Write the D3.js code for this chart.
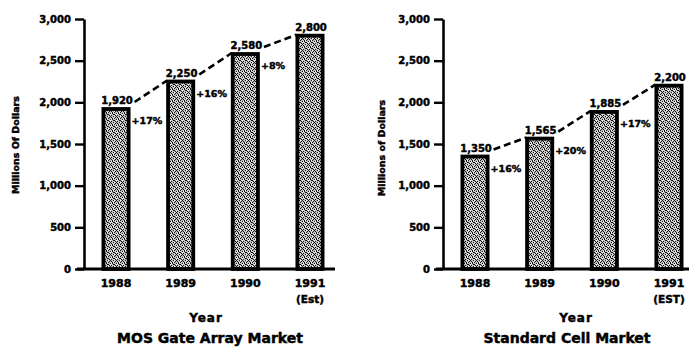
<!DOCTYPE html>
<html>
<head>
<meta charset="utf-8">
<script src="https://cdn.jsdelivr.net/npm/d3@7/dist/d3.min.js"></script>
<style>
  html, body { margin: 0; padding: 0; background: #fff; }
  svg { display: block; }
  text { font-family: "DejaVu Sans", "Liberation Sans", Arial, sans-serif; font-weight: bold; fill: #000; stroke: #000; stroke-width: 0.45px; }
</style>
</head>
<body>
<svg id="chart" width="689" height="349"></svg>
<script>
// Market size, millions of dollars
const years = ["1988", "1989", "1990", "1991"];
const gateArrayValues = [1920, 2250, 2580, 2800];
const gateArrayGrowth = ["+17%", "+16%", "+8%"];
const gateArrayEstLabel = "(Est)";
const stdCellValues = [1350, 1565, 1885, 2200];
const stdCellGrowth = ["+16%", "+20%", "+17%"];
const stdCellEstLabel = "(EST)";
const yTicks = [0, 500, 1000, 1500, 2000, 2500, 3000];

const svg = d3.select("#chart");

// Stippled fill for the bars
const defs = svg.append("defs");
const pat = defs.append("pattern")
  .attr("id", "stipple")
  .attr("patternUnits", "userSpaceOnUse")
  .attr("width", 6).attr("height", 6);
pat.append("rect").attr("width", 6).attr("height", 6).attr("fill", "#c4c4c4");
[[0,0],[3,1],[1,3],[4,4],[2,5],[5,2],[0,4],[3,3],[5,0],[1,1],[4,5],[2,2]].forEach(([x, y]) => {
  pat.append("rect").attr("x", x).attr("y", y).attr("width", 1).attr("height", 1).attr("fill", "#111");
});
[[2,0],[5,4],[0,2],[3,5]].forEach(([x, y]) => {
  pat.append("rect").attr("x", x).attr("y", y).attr("width", 1).attr("height", 1).attr("fill", "#fff");
});

function drawPanel(cfg) {
  const g = svg.append("g");
  const y = d3.scaleLinear().domain([0, 3000]).range([269, 19]);
  const x = d3.scaleBand().domain(years)
    .range([cfg.axisX, cfg.axisX + 258])
    .paddingInner(0.61).paddingOuter(0.3);
  const bw = x.bandwidth();

  // Y axis
  const yAxis = g.append("g")
    .attr("transform", `translate(${cfg.axisX},0)`)
    .call(d3.axisLeft(y).tickValues(yTicks).tickSize(9).tickSizeOuter(0)
      .tickPadding(4).tickFormat(d3.format(",")));
  yAxis.select(".domain").attr("stroke", "#000").attr("stroke-width", 2.6);
  yAxis.selectAll(".tick line").attr("stroke", "#000").attr("stroke-width", 2.4);
  yAxis.selectAll(".tick text")
    .style("font-family", "'DejaVu Sans', sans-serif")
    .style("font-weight", "bold").style("font-size", "10px")
    .attr("fill", "#000").attr("stroke", "#000").attr("stroke-width", 0.45);

  // Baseline
  g.append("line")
    .attr("x1", cfg.axisX - 7).attr("x2", cfg.baseEnd)
    .attr("y1", y(0)).attr("y2", y(0))
    .attr("stroke", "#000").attr("stroke-width", 3);

  // Axis title
  g.append("text")
    .attr("transform", `translate(${cfg.titleX},${cfg.titleY}) rotate(-90)`)
    .attr("text-anchor", "middle")
    .style("font-size", "9.5px")
    .text(cfg.yTitle);

  // Bars
  g.selectAll("rect.bar").data(cfg.values).join("rect")
    .attr("class", "bar")
    .attr("x", (d, i) => x(years[i]))
    .attr("y", d => y(d))
    .attr("width", bw)
    .attr("height", d => y(0) - y(d))
    .attr("fill", "url(#stipple)")
    .attr("stroke", "#000")
    .attr("stroke-width", 3.8);

  // Value labels
  g.selectAll("text.val").data(cfg.values).join("text")
    .attr("class", "val")
    .attr("x", (d, i) => x(years[i]) + bw / 2 + 1)
    .attr("y", d => y(d) - 5)
    .attr("text-anchor", "middle")
    .style("font-size", "10px")
    .text(d => d3.format(",")(d));

  // Dashed trend segments between bar tops
  const segs = d3.pairs(cfg.values.map((v, i) => ({ v, i })));
  g.selectAll("line.trend").data(segs).join("line")
    .attr("class", "trend")
    .attr("x1", ([a]) => x(years[a.i]) + bw + 6)
    .attr("y1", ([a]) => y(a.v) - 7)
    .attr("x2", ([, b]) => x(years[b.i]) - 1)
    .attr("y2", ([, b]) => y(b.v) - 1)
    .attr("stroke", "#000").attr("stroke-width", 2.6)
    .attr("stroke-dasharray", "7,4");

  // Growth labels
  g.selectAll("text.growth").data(cfg.growth).join("text")
    .attr("class", "growth")
    .attr("x", (d, i) => x(years[i]) + bw + 3)
    .attr("y", (d, i) => y(cfg.values[i]) + 15)
    .style("font-size", "9.5px")
    .text(d => d);

  // Year labels
  g.selectAll("text.year").data(years).join("text")
    .attr("class", "year")
    .attr("x", d => x(d) + bw / 2)
    .attr("y", 287)
    .attr("text-anchor", "middle")
    .style("font-size", "11px")
    .text(d => d);
  g.append("text")
    .attr("x", x(years[3]) + bw / 2)
    .attr("y", 303)
    .attr("text-anchor", "middle")
    .style("font-size", "10.5px")
    .text(cfg.estLabel);

  // X axis title and panel title
  g.append("text")
    .attr("x", cfg.yearX).attr("y", 322)
    .attr("text-anchor", "middle")
    .style("font-size", "12px")
    .style("letter-spacing", "1px")
    .text("Year");
  g.append("text")
    .attr("x", cfg.captionX).attr("y", 343)
    .attr("text-anchor", "middle")
    .style("font-size", "14px")
    .text(cfg.caption);
}

drawPanel({
  axisX: 84, baseEnd: 335, titleX: 19, titleY: 145,
  yTitle: "Millions Of Dollars",
  values: gateArrayValues, growth: gateArrayGrowth, estLabel: gateArrayEstLabel,
  yearX: 206, captionX: 210, caption: "MOS Gate Array Market"
});
drawPanel({
  axisX: 443, baseEnd: 689, titleX: 385, titleY: 148,
  yTitle: "Millions of Dollars",
  values: stdCellValues, growth: stdCellGrowth, estLabel: stdCellEstLabel,
  yearX: 576, captionX: 567, caption: "Standard Cell Market"
});
</script>
</body>
</html>
